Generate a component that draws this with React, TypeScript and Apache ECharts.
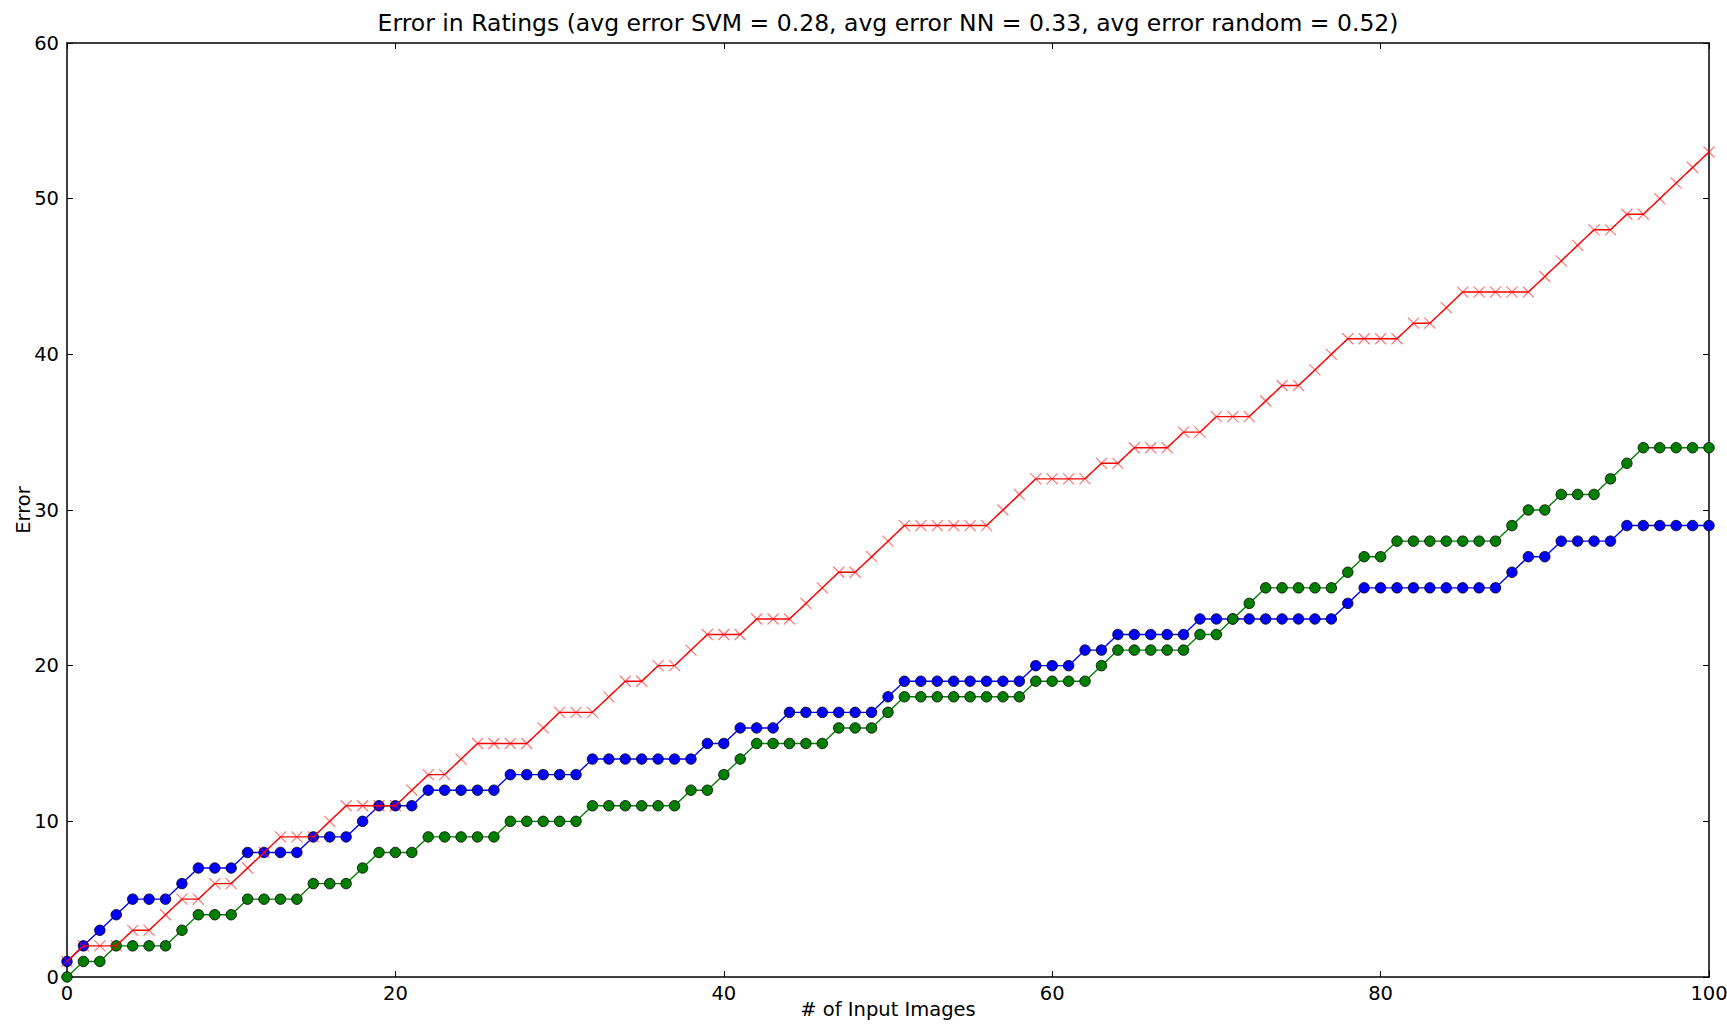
import React, { useEffect, useRef } from "react";
import * as echarts from "echarts";

const titleText =
  "Error in Ratings (avg error SVM = 0.28, avg error NN = 0.33, avg error random = 0.52)";
const xName = "# of Input Images";
const yName = "Error";

const xValues: number[] = Array.from({ length: 101 }, (_, i) => i);

const blueSeries: number[] = [
  1, 2, 3, 4, 5, 5, 5, 6, 7, 7, 7,
  8, 8, 8, 8, 9, 9, 9, 10, 11, 11,
  11, 12, 12, 12, 12, 12, 13, 13, 13, 13,
  13, 14, 14, 14, 14, 14, 14, 14, 15, 15,
  16, 16, 16, 17, 17, 17, 17, 17, 17, 18,
  19, 19, 19, 19, 19, 19, 19, 19, 20, 20,
  20, 21, 21, 22, 22, 22, 22, 22, 23, 23,
  23, 23, 23, 23, 23, 23, 23, 24, 25, 25,
  25, 25, 25, 25, 25, 25, 25, 26, 27, 27,
  28, 28, 28, 28, 29, 29, 29, 29, 29, 29,
];

const greenSeries: number[] = [
  0, 1, 1, 2, 2, 2, 2, 3, 4, 4, 4,
  5, 5, 5, 5, 6, 6, 6, 7, 8, 8,
  8, 9, 9, 9, 9, 9, 10, 10, 10, 10,
  10, 11, 11, 11, 11, 11, 11, 12, 12, 13,
  14, 15, 15, 15, 15, 15, 16, 16, 16, 17,
  18, 18, 18, 18, 18, 18, 18, 18, 19, 19,
  19, 19, 20, 21, 21, 21, 21, 21, 22, 22,
  23, 24, 25, 25, 25, 25, 25, 26, 27, 27,
  28, 28, 28, 28, 28, 28, 28, 29, 30, 30,
  31, 31, 31, 32, 33, 34, 34, 34, 34, 34,
];

const redSeries: number[] = [
  1, 2, 2, 2, 3, 3, 4, 5, 5, 6, 6,
  7, 8, 9, 9, 9, 10, 11, 11, 11, 11,
  12, 13, 13, 14, 15, 15, 15, 15, 16, 17,
  17, 17, 18, 19, 19, 20, 20, 21, 22, 22,
  22, 23, 23, 23, 24, 25, 26, 26, 27, 28,
  29, 29, 29, 29, 29, 29, 30, 31, 32, 32,
  32, 32, 33, 33, 34, 34, 34, 35, 35, 36,
  36, 36, 37, 38, 38, 39, 40, 41, 41, 41,
  41, 42, 42, 43, 44, 44, 44, 44, 44, 45,
  46, 47, 48, 48, 49, 49, 50, 51, 52, 53,
];

const xTicks = { min: 0, max: 100, interval: 20 };
const yTicks = { min: 0, max: 60, interval: 10 };

const FONT = "DejaVu Sans";

const GRID = { left: 67, right: 18, top: 43, bottom: 47 };
const W = 1727;
const H = 1024;

export default function App() {
  const ref = useRef<HTMLDivElement>(null);
  useEffect(() => {
    if (!ref.current) return;
    const chart = echarts.init(ref.current, null, { renderer: "svg" });
    const pair = (ys: number[]) => xValues.map((x, i) => [x, ys[i]]);
    const axisCommon = {
      axisLine: { show: true, onZero: false, lineStyle: { color: "#000", width: 1.5 } },
      axisTick: { show: true, inside: true, length: 6, lineStyle: { color: "#000" } },
      splitLine: { show: false },
    };
    const plotCenterX = GRID.left + (W - GRID.left - GRID.right) / 2;
    chart.setOption({
      animation: false,
      backgroundColor: "#fff",
      graphic: [
        {
          type: "text",
          x: plotCenterX,
          y: 23,
          style: {
            text: titleText,
            align: "center",
            verticalAlign: "middle",
            fontFamily: FONT,
            fontSize: 23.5,
            fill: "#000",
          },
        },
      ],
      grid: { ...GRID, containLabel: false, outerBoundsMode: "none" },
      xAxis: [
        {
          type: "value",
          ...xTicks,
          ...axisCommon,
          name: xName,
          nameLocation: "middle",
          nameGap: 22,
          nameMoveOverlap: false,
          nameTextStyle: { fontFamily: FONT, fontSize: 19.5, color: "#000" },
          axisLabel: { fontFamily: FONT, fontSize: 19.5, color: "#000", margin: 6 },
        },
        {
          type: "value",
          position: "top",
          ...xTicks,
          ...axisCommon,
          axisLabel: { show: false },
        },
      ],
      yAxis: [
        {
          type: "value",
          ...yTicks,
          ...axisCommon,
          name: yName,
          nameLocation: "middle",
          nameGap: 34,
          nameMoveOverlap: false,
          nameTextStyle: { fontFamily: FONT, fontSize: 19.5, color: "#000" },
          axisLabel: { fontFamily: FONT, fontSize: 19.5, color: "#000", margin: 8 },
        },
        {
          type: "value",
          position: "right",
          ...yTicks,
          ...axisCommon,
          axisLabel: { show: false },
        },
      ],
      series: [
        {
          name: "SVM",
          type: "line",
          data: pair(blueSeries),
          symbol: "circle",
          symbolSize: 10.5,
          lineStyle: { color: "#0000ff", width: 1.4 },
          itemStyle: { color: "#0000ff", borderColor: "#000", borderWidth: 0.8 },
          z: 2,
        },
        {
          name: "NN",
          type: "line",
          data: pair(greenSeries),
          symbol: "circle",
          symbolSize: 10.5,
          lineStyle: { color: "#007f00", width: 1.4 },
          itemStyle: { color: "#007f00", borderColor: "#000", borderWidth: 0.8 },
          z: 3,
        },
        {
          name: "random",
          type: "line",
          data: pair(redSeries),
          symbol: "path://M0,0L10,10M10,0L0,10",
          symbolSize: 11,
          lineStyle: { color: "#ff0000", width: 1.4 },
          itemStyle: {
            color: "rgba(0,0,0,0)",
            borderColor: "rgba(255,0,0,0.55)",
            borderWidth: 1.2,
          },
          z: 4,
        },
      ],
    });
    return () => chart.dispose();
  }, []);
  return (
    <div
      ref={ref}
      style={{ position: "fixed", left: 0, top: 0, width: W, height: H, background: "#fff" }}
    />
  );
}
